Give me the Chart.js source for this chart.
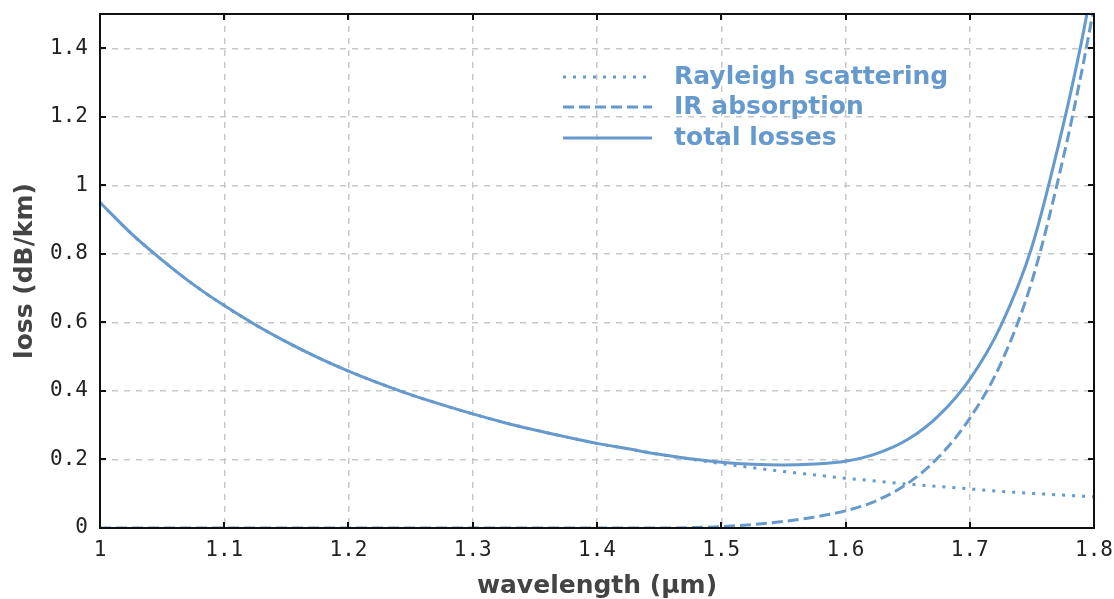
<!DOCTYPE html>
<html lang="en">
<head>
    <meta charset="UTF-8">
    <title>Fiber losses</title>
    <script src="https://cdn.jsdelivr.net/npm/chart.js"></script>
    <style>
        html, body { margin: 0; padding: 0; background: #fff; }
        #wrap { width: 1114px; height: 599px; position: relative; }
    </style>
</head>
<body>
    <div id="wrap"><canvas id="lossChart" width="1114" height="599"></canvas></div>

    <script>
        // wavelength in um
        const wavelengths = [1.000, 1.025, 1.050, 1.075, 1.100, 1.125, 1.150, 1.175, 1.200, 1.225,
            1.250, 1.275, 1.300, 1.325, 1.350, 1.375, 1.400, 1.425, 1.450, 1.475,
            1.500, 1.525, 1.550, 1.575, 1.600, 1.625, 1.650, 1.675, 1.700, 1.725,
            1.750, 1.775, 1.790, 1.800];

        // losses in dB/km
        const rayleigh = [0.950, 0.860, 0.782, 0.711, 0.649, 0.593, 0.543, 0.498, 0.458, 0.422,
            0.389, 0.360, 0.333, 0.308, 0.286, 0.266, 0.247, 0.231, 0.215, 0.201,
            0.188, 0.176, 0.165, 0.155, 0.145, 0.137, 0.128, 0.121, 0.114, 0.107,
            0.101, 0.096, 0.093, 0.091];
        const irAbsorption = [0, 0, 0, 0, 0, 0, 0, 0, 0, 0,
            0, 0, 0, 0, 0, 0, 0, 0, 0, 0.001,
            0.004, 0.010, 0.019, 0.032, 0.050, 0.080, 0.130, 0.207, 0.320, 0.480,
            0.720, 1.076, 1.330, 1.520];
        const totalLosses = [0.950, 0.860, 0.782, 0.711, 0.649, 0.593, 0.543, 0.498, 0.458, 0.422,
            0.389, 0.360, 0.333, 0.308, 0.286, 0.266, 0.247, 0.231, 0.215, 0.202,
            0.192, 0.186, 0.184, 0.187, 0.195, 0.217, 0.258, 0.328, 0.434, 0.590,
            0.820, 1.172, 1.420, 1.610];

        const seriesNames = ['Rayleigh scattering', 'IR absorption', 'total losses'];

        const xTicks = [1, 1.1, 1.2, 1.3, 1.4, 1.5, 1.6, 1.7, 1.8];
        const xTickLabels = ['1', '1.1', '1.2', '1.3', '1.4', '1.5', '1.6', '1.7', '1.8'];
        const yTicks = [0, 0.2, 0.4, 0.6, 0.8, 1, 1.2, 1.4];
        const yTickLabels = ['0', '0.2', '0.4', '0.6', '0.8', '1', '1.2', '1.4'];

        const lineColor = '#6699cc';

        function toPoints(values) {
            return wavelengths.map((w, i) => ({ x: w, y: values[i] }));
        }

        // frame, inward tick marks and the in-plot legend
        const framePlugin = {
            id: 'frame',
            afterDatasetsDraw(chart) {
                const ctx = chart.ctx;
                const a = chart.chartArea;
                const xs = chart.scales.x;
                const ys = chart.scales.y;
                ctx.save();
                ctx.strokeStyle = '#111';
                ctx.lineWidth = 2;
                ctx.setLineDash([]);
                ctx.strokeRect(a.left, a.top, a.right - a.left, a.bottom - a.top);
                ctx.beginPath();
                xTicks.forEach(v => {
                    const px = Math.round(xs.getPixelForValue(v));
                    ctx.moveTo(px, a.bottom); ctx.lineTo(px, a.bottom - 6);
                    ctx.moveTo(px, a.top); ctx.lineTo(px, a.top + 6);
                });
                yTicks.forEach(v => {
                    const py = Math.round(ys.getPixelForValue(v));
                    ctx.moveTo(a.left, py); ctx.lineTo(a.left + 6, py);
                    ctx.moveTo(a.right, py); ctx.lineTo(a.right - 6, py);
                });
                ctx.stroke();

                // legend
                const rows = [77, 107, 138];
                ctx.font = 'bold 25px "DejaVu Sans", Verdana, sans-serif';
                ctx.textBaseline = 'middle';
                ctx.fillStyle = lineColor;
                chart.data.datasets.forEach((ds, i) => {
                    ctx.strokeStyle = ds.borderColor;
                    ctx.lineWidth = ds.borderWidth;
                    ctx.setLineDash(ds.borderDash || []);
                    ctx.beginPath();
                    ctx.moveTo(563, rows[i]);
                    ctx.lineTo(652, rows[i]);
                    ctx.stroke();
                    ctx.fillText(ds.label, 674, rows[i]);
                });
                ctx.restore();
            }
        };

        const ctx = document.getElementById('lossChart').getContext('2d');
        const lossChart = new Chart(ctx, {
            type: 'line',
            data: {
                datasets: [
                    {
                        label: seriesNames[0],
                        data: toPoints(rayleigh),
                        borderColor: lineColor,
                        borderWidth: 3,
                        borderDash: [3, 7],
                        pointRadius: 0,
                        fill: false,
                        cubicInterpolationMode: 'monotone'
                    },
                    {
                        label: seriesNames[1],
                        data: toPoints(irAbsorption),
                        borderColor: lineColor,
                        borderWidth: 3,
                        borderDash: [11, 5],
                        pointRadius: 0,
                        fill: false,
                        cubicInterpolationMode: 'monotone'
                    },
                    {
                        label: seriesNames[2],
                        data: toPoints(totalLosses),
                        borderColor: lineColor,
                        borderWidth: 3,
                        pointRadius: 0,
                        fill: false,
                        cubicInterpolationMode: 'monotone'
                    }
                ]
            },
            options: {
                responsive: false,
                animation: false,
                layout: { padding: { top: 14, right: 20, left: 0, bottom: 0 } },
                plugins: {
                    legend: { display: false },
                    tooltip: { enabled: false }
                },
                scales: {
                    x: {
                        type: 'linear',
                        min: 1,
                        max: 1.8,
                        afterBuildTicks: scale => { scale.ticks = xTicks.map(v => ({ value: v })); },
                        afterFit: scale => {
                            scale.height = 71;
                            scale.paddingLeft = 0;
                            scale.paddingRight = 0;
                        },
                        ticks: {
                            callback: (v, i) => xTickLabels[i],
                            color: '#222',
                            font: { family: '"DejaVu Sans Mono", monospace', size: 21 },
                            padding: 10,
                            maxRotation: 0
                        },
                        grid: { color: '#c8c8c8', lineWidth: 1.5, tickLength: 0 },
                        border: { display: false, dash: [6, 6] },
                        title: {
                            display: true,
                            text: 'wavelength (µm)',
                            color: '#444',
                            font: { family: '"DejaVu Sans", Verdana, sans-serif', size: 25, weight: 'bold' },
                            padding: { top: 0, bottom: -2 }
                        }
                    },
                    y: {
                        type: 'linear',
                        min: 0,
                        max: 1.5,
                        afterBuildTicks: scale => { scale.ticks = yTicks.map(v => ({ value: v })); },
                        afterFit: scale => {
                            scale.width = 100;
                            scale.paddingTop = 0;
                            scale.paddingBottom = 0;
                        },
                        ticks: {
                            callback: (v, i) => yTickLabels[i],
                            color: '#222',
                            font: { family: '"DejaVu Sans Mono", monospace', size: 21 },
                            padding: 12
                        },
                        grid: { color: '#c8c8c8', lineWidth: 1.5, tickLength: 0 },
                        border: { display: false, dash: [6, 6] },
                        title: {
                            display: true,
                            text: 'loss (dB/km)',
                            color: '#444',
                            font: { family: '"DejaVu Sans", Verdana, sans-serif', size: 25, weight: 'bold' },
                            padding: { top: 10, bottom: 0 }
                        }
                    }
                }
            },
            plugins: [framePlugin]
        });
    </script>
</body>
</html>
